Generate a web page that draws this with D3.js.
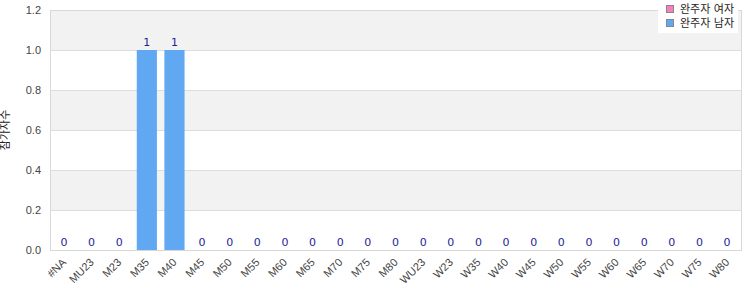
<!DOCTYPE html>
<html>
<head>
<meta charset="utf-8">
<script src="https://cdn.jsdelivr.net/npm/d3@7"></script>
<style>
  body { margin: 0; background: #fff; }
  svg { font-family: "DejaVu Sans", "Noto Sans CJK KR", sans-serif; }
</style>
</head>
<body>
<svg width="750" height="300"></svg>
<script>

// DATA

var categories = ["#NA", "MU23", "M23", "M35", "M40", "M45", "M50", "M55", "M60", "M65",
    "M70", "M75", "M80", "WU23", "W23", "W35", "W40", "W45", "W50", "W55",
    "W60", "W65", "W70", "W75", "W80"];

var female = [0, 0, 0, 0, 0, 0, 0, 0, 0, 0, 0, 0, 0, 0, 0, 0, 0, 0, 0, 0, 0, 0, 0, 0, 0];
var male   = [0, 0, 0, 1, 1, 0, 0, 0, 0, 0, 0, 0, 0, 0, 0, 0, 0, 0, 0, 0, 0, 0, 0, 0, 0];

var seriesNames = ["완주자 여자", "완주자 남자"];
var seriesColors = ["#f77fbe", "#61a8f3"];
var yTicks = [0, 0.2, 0.4, 0.6, 0.8, 1.0, 1.2];
var yTitle = "참가자수";

var svg = d3.select("svg"),
    margin = {top: 10, right: 9, bottom: 50, left: 50},
    width = +svg.attr("width") - margin.left - margin.right,
    height = +svg.attr("height") - margin.top - margin.bottom;

var rows = categories.map(function (c, i) {
    return {cat: c, female: female[i], male: male[i]};
});

var stack = d3.stack().keys(["female", "male"]);
var layers = stack(rows);

var x = d3.scaleBand()
    .domain(categories)
    .range([0, width])
    .paddingInner(0.27)
    .paddingOuter(0.14);

var y = d3.scaleLinear()
    .domain([0, 1.2])
    .range([height, 0]);

var g = svg.append("g")
    .attr("transform", "translate(" + margin.left + "," + margin.top + ")");

// alternating bands
for (let i = 0; i < yTicks.length - 1; i++) {
    g.append("rect")
        .attr("x", 0)
        .attr("y", y(yTicks[i + 1]))
        .attr("width", width)
        .attr("height", y(yTicks[i]) - y(yTicks[i + 1]))
        .attr("fill", i % 2 == 1 ? "#f2f2f2" : "#ffffff");
}

// grid lines
g.selectAll(".grid")
    .data(yTicks)
    .enter().append("line")
    .attr("x1", 0)
    .attr("x2", width)
    .attr("y1", function (d) { return y(d) + 0.5; })
    .attr("y2", function (d) { return y(d) + 0.5; })
    .attr("stroke", "#dddddd");

g.append("rect")
    .attr("x", 0.5)
    .attr("y", 0.5)
    .attr("width", width)
    .attr("height", height)
    .attr("fill", "none")
    .attr("stroke", "#d8d8d8");

// bars (skip empty segments)
g.selectAll(".layer")
    .data(layers)
    .enter().append("g")
    .attr("fill", function (d, i) { return seriesColors[i]; })
    .selectAll("rect")
    .data(function (d) { return d.filter(function (s) { return s[1] > s[0]; }); })
    .enter().append("rect")
    .attr("x", function (d) { return x(d.data.cat); })
    .attr("y", function (d) { return y(d[1]); })
    .attr("width", x.bandwidth())
    .attr("height", function (d) { return y(d[0]) - y(d[1]); });

// value labels
g.selectAll(".val")
    .data(rows)
    .enter().append("text")
    .attr("x", function (d) { return x(d.cat) + x.bandwidth() / 2; })
    .attr("y", function (d) { return y(d.female + d.male) - 4; })
    .attr("text-anchor", "middle")
    .attr("font-size", 11)
    .attr("fill", "#1e1e9a")
    .text(function (d) { return d.female + d.male; });

// y axis labels
var yAxis = d3.axisLeft(y)
    .tickValues(yTicks)
    .tickSize(0)
    .tickPadding(9)
    .tickFormat(d3.format(".1f"));

var gY = g.append("g").call(yAxis);
gY.select(".domain").remove();
gY.selectAll("text").attr("fill", "#444").attr("font-size", 11);

// x axis labels
var xAxis = d3.axisBottom(x).tickSize(0).tickPadding(6);
var gX = g.append("g")
    .attr("transform", "translate(0," + height + ")")
    .call(xAxis);
gX.select(".domain").remove();
gX.selectAll("text")
    .attr("fill", "#444")
    .attr("font-size", 11)
    .attr("text-anchor", "end")
    .attr("dy", "0.35em")
    .attr("transform", "translate(-4,6) rotate(-45)");

// y title
svg.append("text")
    .attr("transform", "translate(9," + (margin.top + height / 2) + ") rotate(-90)")
    .attr("text-anchor", "middle")
    .attr("font-size", 11)
    .attr("fill", "#222")
    .text(yTitle);

// legend
var legend = svg.append("g").attr("transform", "translate(658,0)");
legend.append("rect")
    .attr("width", 80).attr("height", 33)
    .attr("fill", "#fff");
seriesNames.forEach(function (name, i) {
    legend.append("rect")
        .attr("x", 8.5).attr("y", 5.5 + i * 14)
        .attr("width", 7).attr("height", 7)
        .attr("fill", seriesColors[i])
        .attr("stroke", "#888");
    legend.append("text")
        .attr("x", 22).attr("y", 13 + i * 14)
        .attr("font-size", 11)
        .attr("fill", "#222")
        .text(name);
});

</script>
</body>
</html>
